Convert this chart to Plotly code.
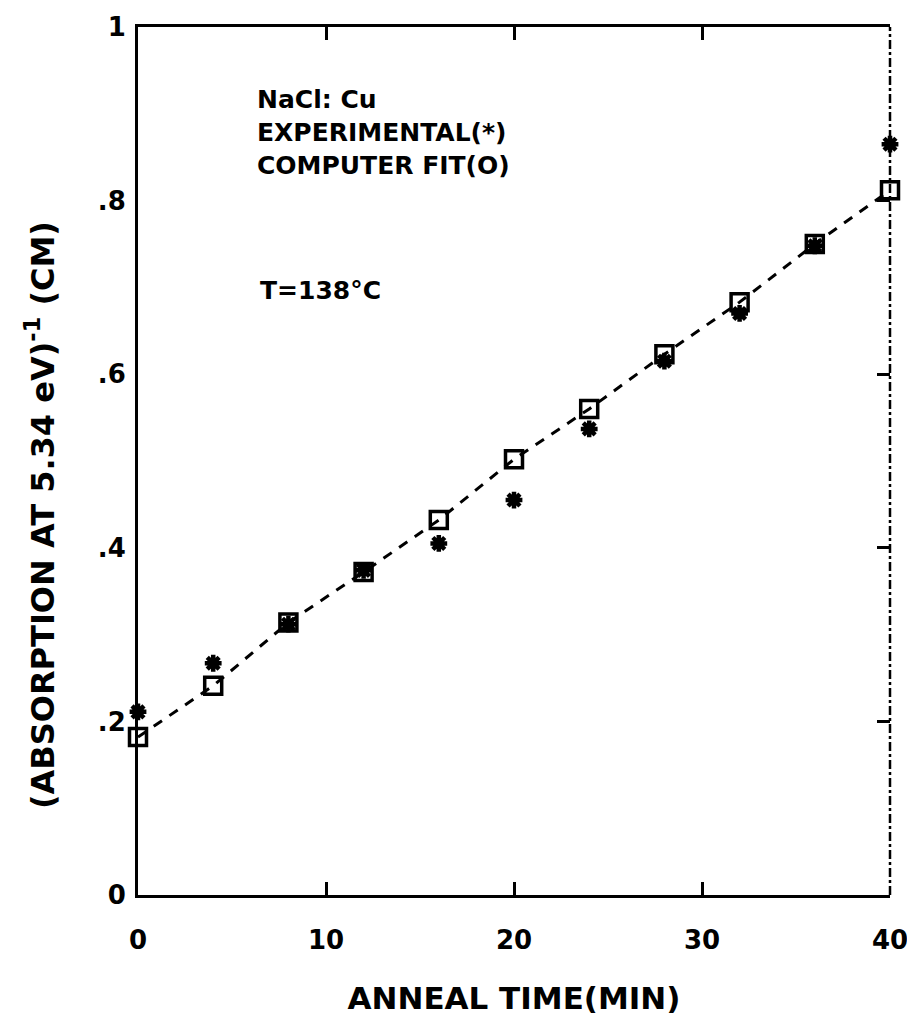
import plotly.graph_objects as go

anneal_time = [0, 4, 8, 12, 16, 20, 24, 28, 32, 36, 40]
experimental = [0.211, 0.267, 0.312, 0.374, 0.405, 0.455, 0.537, 0.615, 0.670, 0.748, 0.865]
computer_fit = [0.182, 0.241, 0.314, 0.372, 0.432, 0.502, 0.560, 0.623, 0.683, 0.750, 0.812]

x_ticks = [0, 10, 20, 30, 40]
x_tick_labels = ["0", "10", "20", "30", "40"]
y_ticks = [0, 0.2, 0.4, 0.6, 0.8, 1.0]
y_tick_labels = ["0", ".2", ".4", ".6", ".8", "1"]

FONT = "DejaVu Sans"

fig = go.Figure()

# dashed fit line
fig.add_trace(go.Scatter(
    x=anneal_time, y=computer_fit, mode="lines",
    line=dict(color="black", width=3, dash="10px,9px"),
    showlegend=False, hoverinfo="skip", cliponaxis=False))

# experimental points (asterisks)
fig.add_trace(go.Scatter(
    x=anneal_time, y=experimental, mode="markers",
    marker=dict(symbol="asterisk-open", size=14, color="black",
                line=dict(color="black", width=4.5)),
    showlegend=False, cliponaxis=False))

# computer fit points (open boxes)
fig.add_trace(go.Scatter(
    x=anneal_time, y=computer_fit, mode="markers",
    marker=dict(symbol="square-open", size=17, color="black",
                line=dict(color="black", width=3.5)),
    showlegend=False, cliponaxis=False))

# right-side ticks via overlay axis
fig.add_trace(go.Scatter(x=[None], y=[None], yaxis="y2", showlegend=False))

fig.update_layout(
    width=907, height=1012,
    margin=dict(l=130, r=25, t=19, b=125, autoexpand=False),
    paper_bgcolor="white", plot_bgcolor="white",
    font=dict(family=FONT, color="black", size=24, weight="bold"),
    xaxis=dict(
        range=[0, 40], tickmode="array", tickvals=x_ticks, ticktext=x_tick_labels,
        showgrid=False, zeroline=False, showline=True, linecolor="black", linewidth=3,
        mirror="ticks", ticks="inside", ticklen=13, tickwidth=3, tickcolor="black",
        ticklabelstandoff=20,
        tickfont=dict(family=FONT, size=26, weight="bold"),
        title=dict(text="ANNEAL TIME(MIN)", standoff=34,
                   font=dict(family=FONT, size=31, weight="bold")),
    ),
    yaxis=dict(
        range=[0, 1], tickmode="array", tickvals=y_ticks, ticktext=y_tick_labels,
        showgrid=False, zeroline=False, showline=True, linecolor="black", linewidth=3,
        ticks="inside", ticklen=0, tickwidth=3, tickcolor="black",
        ticklabelstandoff=4,
        tickfont=dict(family=FONT, size=26, weight="bold"),
    ),
    yaxis2=dict(
        range=[0, 1], overlaying="y", side="right", tickmode="array",
        tickvals=[0.2, 0.4, 0.6, 0.8], showticklabels=False, showgrid=False,
        zeroline=False, showline=False, ticks="inside", ticklen=13, tickwidth=3,
        tickcolor="black",
    ),
    shapes=[dict(type="line", xref="paper", yref="paper", x0=1, x1=1, y0=0, y1=1,
                 line=dict(color="black", width=2.5, dash="dashdot"))],
    annotations=[
        dict(x=-0.13, y=0.438, xref="paper", yref="paper", xanchor="center", yanchor="middle",
             text="(ABSORPTION AT 5.34 eV)<sup>-1</sup> (CM)", textangle=-90, showarrow=False,
             font=dict(family=FONT, size=32, weight="bold")),
        dict(x=0.156, y=0.916, xref="paper", yref="paper", xanchor="left", yanchor="middle",
             text="NaCl: Cu", showarrow=False, font=dict(family=FONT, size=25, weight="bold")),
        dict(x=0.156, y=0.879, xref="paper", yref="paper", xanchor="left", yanchor="middle",
             text="EXPERIMENTAL(*)", showarrow=False, font=dict(family=FONT, size=25, weight="bold")),
        dict(x=0.156, y=0.841, xref="paper", yref="paper", xanchor="left", yanchor="middle",
             text="COMPUTER FIT(O)", showarrow=False, font=dict(family=FONT, size=25, weight="bold")),
        dict(x=0.16, y=0.697, xref="paper", yref="paper", xanchor="left", yanchor="middle",
             text="T=138°C", showarrow=False, font=dict(family=FONT, size=25, weight="bold")),
    ],
)

fig.write_html("out.html")
